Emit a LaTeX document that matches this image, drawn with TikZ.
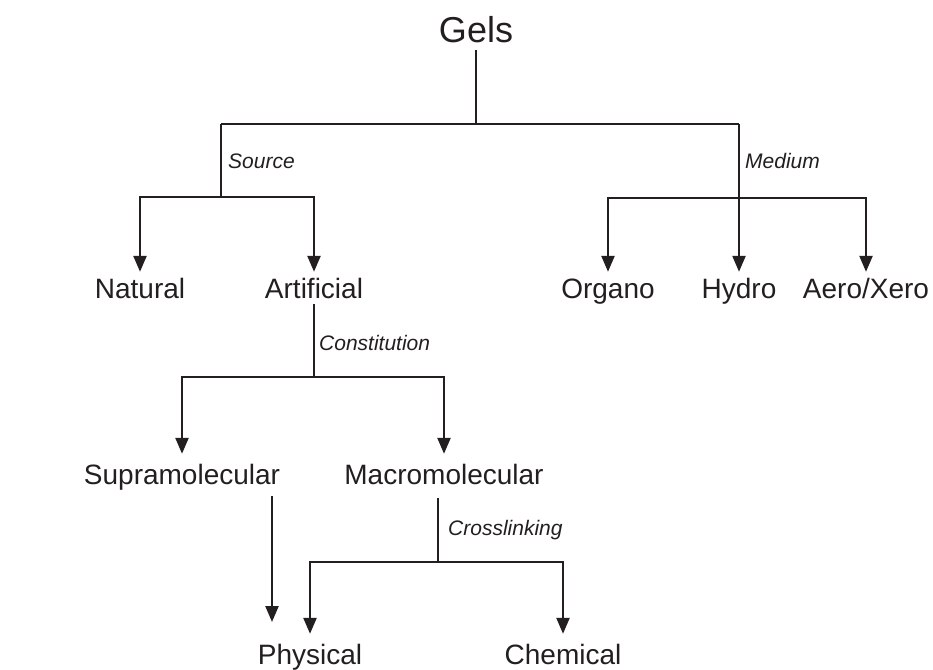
\documentclass[tikz,border=0pt]{standalone}
\usepackage{fontspec}
\setmainfont{Liberation Sans}
\usetikzlibrary{arrows.meta}
\definecolor{ink}{HTML}{231F20}
\begin{document}
\begin{tikzpicture}[x=1pt,y=-1pt,
  ln/.style={draw=ink,line width=2.4pt},
  arr/.style={ln,-{Triangle[length=16pt,width=13pt]}},
  big/.style={anchor=base,inner xsep=0pt,inner ysep=7pt,text height=26pt,text depth=0pt,text=ink,font=\fontsize{36}{40}\selectfont},
  lvA/.style={anchor=base,inner xsep=0pt,inner ysep=6pt,text height=20pt,text depth=0pt,text=ink,font=\fontsize{28}{32}\selectfont},
  lvB/.style={anchor=base,inner xsep=0pt,inner ysep=10pt,text height=20pt,text depth=0pt,text=ink,font=\fontsize{28}{32}\selectfont},
  lab/.style={anchor=base west,inner sep=0pt,text=ink,font=\fontsize{21}{24}\selectfont\itshape}]
\useasboundingbox (0,0) rectangle (933,669);
% nodes
\node[big] (gels) at (476,43) {Gels};
\node[lvA] (natural) at (140,298) {Natural};
\node[lvA] (artificial) at (314,298) {Artificial};
\node[lvA] (organo) at (608,298) {Organo};
\node[lvA] (hydro) at (739,298) {Hydro};
\node[lvA] (aero) at (866,298) {Aero/Xero};
\node[lvB] (supra) at (182,484) {Supramolecular};
\node[lvB] (macro) at (444,484) {Macromolecular};
\node[lvB] (physical) at (310,664) {Physical};
\node[lvB] (chemical) at (563,664) {Chemical};
% labels
\node[lab] (source) at (228,168) {Source};
\node[lab] (medium) at (745,168) {Medium};
\node[lab] (constitution) at (319,350) {Constitution};
\node[lab] (crosslinking) at (448,535) {Crosslinking};
% junctions
\coordinate (j1) at (476,124);
\coordinate (srcT) at (221,124);
\coordinate (medT) at (739,124);
\coordinate (srcJ) at (221,197);
\coordinate (medJ) at (739,198);
\coordinate (conJ) at (314,377);
\coordinate (crsJ) at (438,562);
\coordinate (spEnd) at (272,622);
% connectors
\draw[ln] (gels.south) -- (j1);
\draw[ln] (srcT) -- (medT);
\draw[ln] (srcT) -- (srcJ);
\draw[arr] (srcJ) -| (natural.north);
\draw[arr] (srcJ) -| (artificial.north);
\draw[arr] (medT) -- (hydro.north);
\draw[arr] (medJ) -| (organo.north);
\draw[arr] (medJ) -| (aero.north);
\draw[ln] (artificial.south) -- (conJ);
\draw[arr] (conJ) -| (supra.north);
\draw[arr] (conJ) -| (macro.north);
\draw[ln] ([yshift=-4pt]crsJ |- macro.south) -- (crsJ);
\draw[arr] (crsJ) -| (physical.north);
\draw[arr] (crsJ) -| (chemical.north);
\draw[arr] ([yshift=-2pt]spEnd |- supra.south) -- (spEnd);
\end{tikzpicture}
\end{document}
